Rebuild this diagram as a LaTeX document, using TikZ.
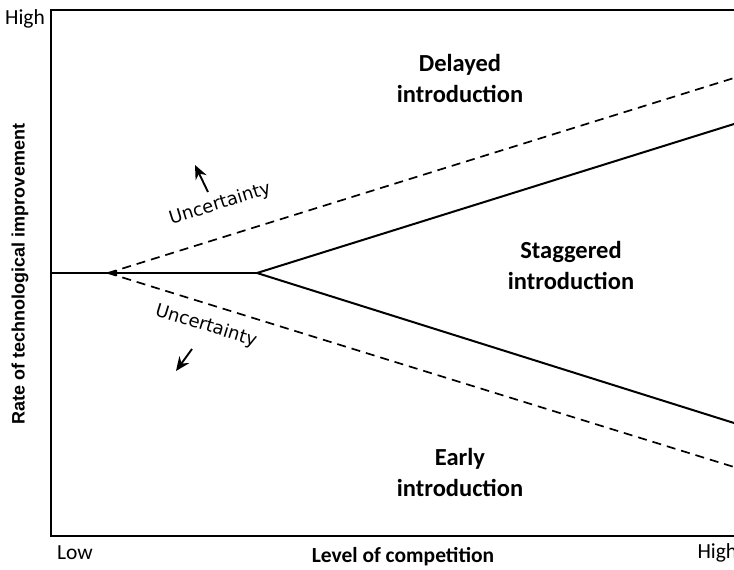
\documentclass[tikz,border=0pt]{standalone}
\usepackage{fontspec}
\setmainfont{Carlito}
\newfontfamily\axisfont{Liberation Sans}
\newfontfamily\uncfont{DejaVu Sans}
\usetikzlibrary{arrows.meta}
\begin{document}
\begin{tikzpicture}[x=1pt,y=-1pt,
  frame/.style={line width=2.2pt},
  bound/.style={line width=2pt},
  dashbound/.style={line width=1.7pt, dash pattern=on 9pt off 6pt},
  region/.style={font=\fontsize{24.5}{31}\selectfont\bfseries, align=center},
  tick/.style={font=\fontsize{21.5}{24}\selectfont},
  unc/.style={font=\uncfont\fontsize{18}{20}\selectfont},
  uarrow/.style={line width=1.9pt, -{Stealth[length=14pt,width=12pt]}}]
\useasboundingbox (0,0) rectangle (734,570);
\coordinate (tr) at (740,10);
\coordinate (tl) at (51,10);
\coordinate (bl) at (51,536);
\coordinate (br) at (740,536);
\draw[frame] (tr) -- (tl) -- (bl) -- (br);
\coordinate (o) at (51,273);
\coordinate (s) at (108,273);
\coordinate (k) at (257,273);
\coordinate (du) at (734,78);
\coordinate (su) at (734,124);
\coordinate (sl) at (734,423);
\coordinate (dl) at (734,467);
\draw[bound] (o) -- (k);
\draw[bound] (k) -- (su);
\draw[bound] (k) -- (sl);
\draw[dashbound] (s) -- (du);
\draw[dashbound] (s) -- (dl);
\fill (s) -- ++(9,-3) -- ++(0,6) -- cycle;
\node[tick] (hy) at (25,19) {High};
\node[tick] (lx) at (75,553) {Low};
\node[tick, anchor=west] (hx) at (694,553) {High};
\node[font=\fontsize{21.5}{24}\selectfont\bfseries] (xl) at (403,557) {Level of competition};
\node[font=\axisfont\fontsize{18}{20}\selectfont\bfseries, rotate=90] (yl) at (20,274) {Rate of technological improvement};
\node[region] (delayed) at (460,78) {Delayed\\introduction};
\node[region] (stag) at (571,265) {Staggered\\introduction};
\node[region] (early) at (460,472) {Early\\introduction};
\node[unc, rotate=17.3] (u1) at (220,204) {Uncertainty};
\node[unc, rotate=-17.2] (u2) at (206,326) {Uncertainty};
\coordinate (a1s) at (208,192);
\coordinate (a1e) at (195,165);
\coordinate (a2s) at (192,349);
\coordinate (a2e) at (176,371);
\draw[uarrow] (a1s) -- (a1e);
\draw[uarrow] (a2s) -- (a2e);
\end{tikzpicture}
\end{document}
